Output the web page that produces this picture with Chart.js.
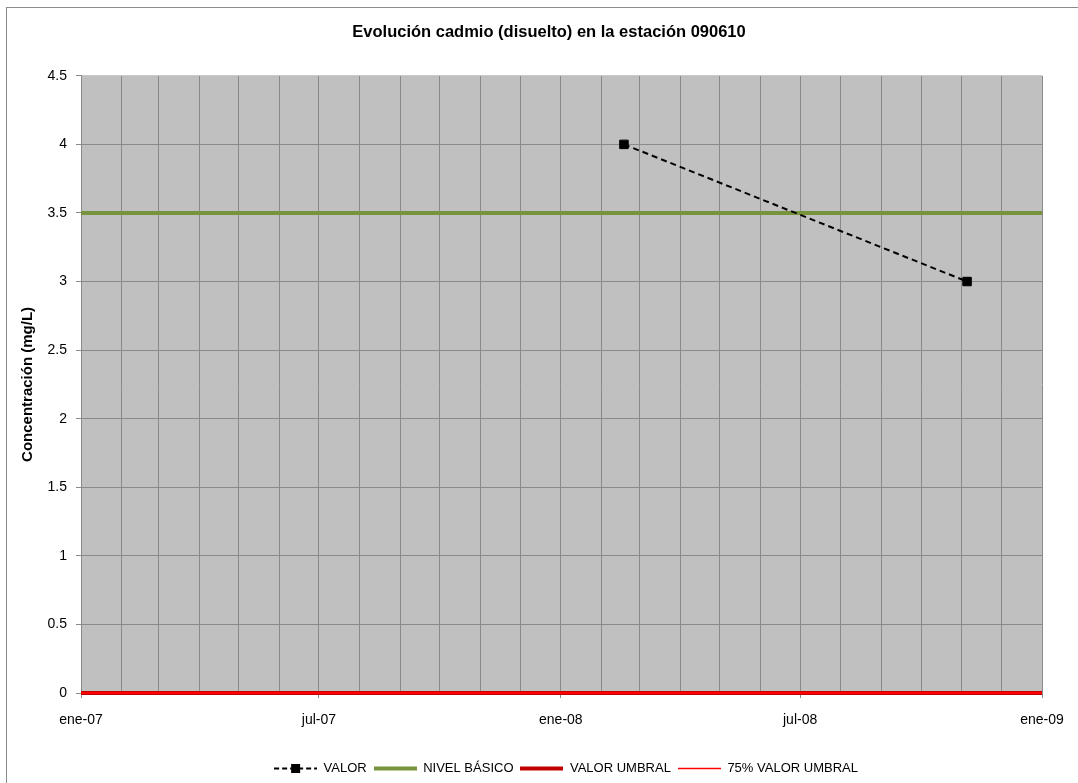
<!DOCTYPE html>
<html>
<head>
<meta charset="utf-8">
<title>Evolución cadmio (disuelto) en la estación 090610</title>
<script src="https://cdn.jsdelivr.net/npm/chart.js@4.4.0/dist/chart.umd.min.js"></script>
<style>
  html, body { margin: 0; padding: 0; background: #fff; }
  #wrap { position: relative; width: 1078px; height: 783px; }
</style>
</head>
<body>
<div id="wrap"><canvas id="chart" width="1078" height="783"></canvas></div>
<script>
// Data
const valorDates = ['2008-02-18', '2008-11-05'];
const valorValues = [4, 3];
const rangeDates = ['2007-01-01', '2009-01-01'];
const nivelBasico = [3.5, 3.5];
const valorUmbral = [0, 0];
const umbral75 = [0, 0];
const yTicks = [0, 0.5, 1, 1.5, 2, 2.5, 3, 3.5, 4, 4.5];
const monthNames = ['ene', 'feb', 'mar', 'abr', 'may', 'jun', 'jul', 'ago', 'sep', 'oct', 'nov', 'dic'];
const labelMonths = [0, 6];

const FONT = "'Liberation Sans', Arial, sans-serif";
const GRID = '#8a8a8a';

function toMs(s) {
  return Date.parse(s + 'T00:00:00Z');
}

function points(dates, values) {
  return dates.map((d, i) => ({ x: toMs(d), y: values[i] }));
}

// month start ticks between the two range dates
function monthTicks() {
  const start = new Date(toMs(rangeDates[0]));
  const end = toMs(rangeDates[1]);
  const ticks = [];
  let y = start.getUTCFullYear(), m = start.getUTCMonth();
  while (Date.UTC(y, m, 1) <= end) {
    ticks.push({ value: Date.UTC(y, m, 1) });
    m++;
    if (m > 11) { m = 0; y++; }
  }
  return ticks;
}

function monthLabel(value) {
  const d = new Date(value);
  const m = d.getUTCMonth();
  if (labelMonths.indexOf(m) < 0) return '';
  return monthNames[m] + '-' + String(d.getUTCFullYear()).slice(2);
}

// small canvases used as legend symbols
function legendSymbol(color, width, dash, marker) {
  const c = document.createElement('canvas');
  c.width = 43;
  c.height = 11;
  const g = c.getContext('2d');
  g.strokeStyle = color;
  g.lineWidth = width;
  g.setLineDash(dash || []);
  g.beginPath();
  g.moveTo(0, 5.5);
  g.lineTo(43, 5.5);
  g.stroke();
  if (marker) {
    g.fillStyle = color;
    g.fillRect(17, 1, 9, 9);
  }
  return c;
}

const legendItems = [
  { text: 'VALOR', symbol: legendSymbol('#000', 2, [5, 3], true) },
  { text: 'NIVEL BÁSICO', symbol: legendSymbol('#77933c', 4) },
  { text: 'VALOR UMBRAL', symbol: legendSymbol('#c00000', 4) },
  { text: '75% VALOR UMBRAL', symbol: legendSymbol('#ff0000', 1.5) }
];

const framePlugin = {
  id: 'frame',
  beforeDraw(chart) {
    const ctx = chart.ctx;
    const a = chart.chartArea;
    ctx.save();
    ctx.strokeStyle = '#8c8c8c';
    ctx.lineWidth = 1;
    ctx.strokeRect(6.5, 7.5, 1300, 1300);
    ctx.fillStyle = '#c0c0c0';
    ctx.fillRect(a.left, a.top, a.right - a.left, a.bottom - a.top);
    ctx.restore();
  },
  afterLayout(chart) {
    // nudge title and legend to where the reference has them
    const t = chart.titleBlock;
    if (t) { t.left += 28; t.right += 28; }
    const l = chart.legend;
    if (l) { l.left += 45; l.right += 45; l.top += 2; l.bottom += 2; }
  }
};

const ctx = document.getElementById('chart').getContext('2d');
new Chart(ctx, {
  type: 'line',
  data: {
    datasets: [
      {
        label: 'VALOR',
        data: points(valorDates, valorValues),
        borderColor: '#000',
        borderWidth: 2,
        borderDash: [6, 4],
        pointStyle: 'rect',
        pointRadius: 6,
        pointBackgroundColor: '#000',
        pointBorderColor: '#000',
        pointBorderWidth: 1,
        order: 0
      },
      {
        label: 'NIVEL BÁSICO',
        data: points(rangeDates, nivelBasico),
        borderColor: '#77933c',
        borderWidth: 4,
        pointRadius: 0,
        order: 3
      },
      {
        label: 'VALOR UMBRAL',
        data: points(rangeDates, valorUmbral),
        borderColor: '#c00000',
        borderWidth: 4,
        pointRadius: 0,
        clip: 6,
        order: 2
      },
      {
        label: '75% VALOR UMBRAL',
        data: points(rangeDates, umbral75),
        borderColor: '#ff0000',
        borderWidth: 2,
        pointRadius: 0,
        clip: 6,
        order: 1
      }
    ]
  },
  options: {
    responsive: false,
    animation: false,
    devicePixelRatio: 1,
    layout: { padding: { top: 5, right: 36, bottom: 0, left: 0 } },
    plugins: {
      tooltip: { enabled: false },
      title: {
        display: true,
        text: 'Evolución cadmio (disuelto) en la estación 090610',
        color: '#000',
        font: { family: FONT, size: 16.5, weight: 'bold' },
        padding: { top: 18, bottom: 33 }
      },
      legend: {
        position: 'bottom',
        labels: {
          color: '#000',
          font: { family: FONT, size: 13 },
          padding: 7,
          usePointStyle: true,
          pointStyleWidth: 43,
          generateLabels() {
            return legendItems.map((it, i) => ({
              text: it.text,
              pointStyle: it.symbol,
              fillStyle: '#000',
              strokeStyle: '#000',
              lineWidth: 0,
              hidden: false,
              datasetIndex: i
            }));
          }
        }
      }
    },
    scales: {
      x: {
        type: 'linear',
        min: toMs(rangeDates[0]),
        max: toMs(rangeDates[1]),
        afterBuildTicks(scale) { scale.ticks = monthTicks(); },
        afterFit(scale) { scale.height = 60; },
        ticks: {
          autoSkip: false,
          maxRotation: 0,
          color: '#000',
          font: { family: FONT, size: 14 },
          padding: 14,
          callback: (v) => monthLabel(v)
        },
        grid: {
          color: GRID,
          lineWidth: 1,
          tickLength: 5,
          tickColor: (c) => (c.tick && monthLabel(c.tick.value) ? GRID : 'rgba(0,0,0,0)')
        },
        border: { display: false }
      },
      y: {
        min: yTicks[0],
        max: yTicks[yTicks.length - 1],
        afterBuildTicks(scale) { scale.ticks = yTicks.map(v => ({ value: v })); },
        afterFit(scale) { scale.width = 81; },
        ticks: {
          color: '#000',
          font: { family: FONT, size: 14 },
          padding: 9,
          callback: (v) => String(v)
        },
        grid: {
          color: (c) => (c.tick && c.tick.value === 4.5 ? '#c8c8c8' : GRID),
          lineWidth: 1,
          tickLength: 5,
          tickColor: GRID
        },
        border: { display: true, color: GRID },
        title: {
          display: true,
          text: 'Concentración (mg/L)',
          color: '#000',
          font: { family: FONT, size: 15, weight: 'bold' },
          padding: { top: 19, bottom: 0 }
        }
      }
    }
  },
  plugins: [framePlugin]
});
</script>
</body>
</html>
